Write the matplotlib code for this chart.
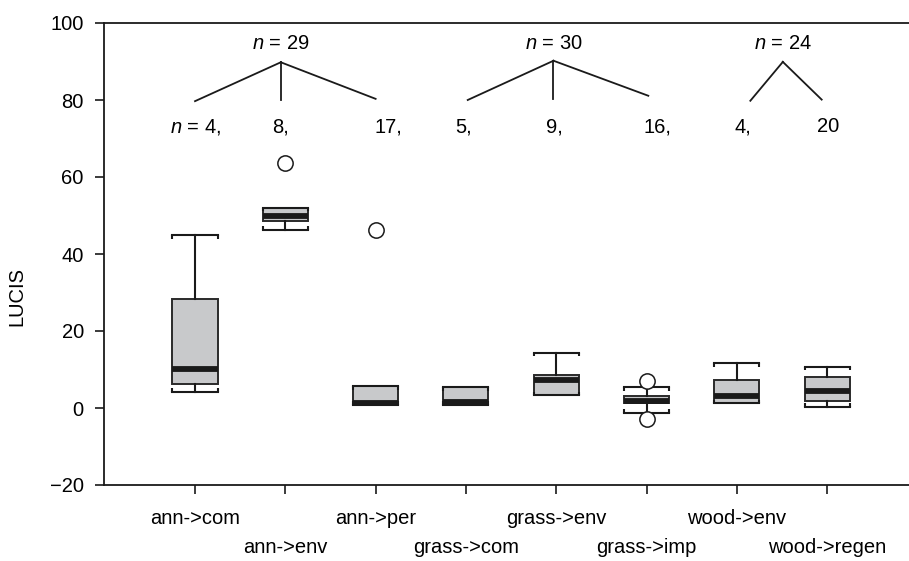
import matplotlib
matplotlib.use("Agg")
import matplotlib.pyplot as plt

plt.rcParams['font.family'] = ['Liberation Sans', 'DejaVu Sans']
plt.rcParams['mathtext.fontset'] = 'custom'
plt.rcParams['mathtext.it'] = 'Liberation Sans:italic'
plt.rcParams['mathtext.rm'] = 'Liberation Sans'

categories = ['ann->com', 'ann->env', 'ann->per', 'grass->com',
              'grass->env', 'grass->imp', 'wood->env', 'wood->regen']
q1 = [6.3, 48.6, 0.9, 0.9, 3.5, 1.2, 1.4, 1.8]
med = [10.2, 49.9, 1.4, 1.5, 7.3, 1.9, 3.0, 4.4]
q3 = [28.2, 52.0, 5.7, 5.4, 8.7, 3.2, 7.4, 8.1]
whislo = [4.2, 46.3, 0.9, 0.9, 3.3, -1.2, 1.2, 0.3]
whishi = [44.9, 52.0, 5.7, 5.4, 14.4, 5.4, 11.6, 10.7]
fliers = [[], [63.6], [46.2], [], [], [7.1, -2.8], [], []]

group_n = ['29', '30', '24']
sub_n = ['$n$ = 4,', '8,', '17,', '5,', '9,', '16,', '4,', '20']

fig = plt.figure(figsize=(9.09, 5.61), dpi=100)
ax = fig.add_axes([104/909, 1-485/561, 805/909, 462/561])

stats = []
for i, c in enumerate(categories):
    stats.append(dict(label=c, q1=q1[i], med=med[i], q3=q3[i],
                      whislo=whislo[i], whishi=whishi[i], fliers=fliers[i]))

positions = list(range(1, len(categories) + 1))
lc = '#1a1a1a'
bw = 0.5
res = ax.bxp(stats, positions=positions, widths=bw, patch_artist=True,
             boxprops=dict(facecolor='#c8c9cb', edgecolor='#2a2a2a', linewidth=1.4),
             medianprops=dict(color=lc, linewidth=4.2, solid_capstyle='butt'),
             whiskerprops=dict(color=lc, linewidth=1.5),
             capprops=dict(color=lc, linewidth=1.5),
             capwidths=bw,
             flierprops=dict(marker='o', markersize=11, markerfacecolor='white',
                             markeredgecolor=lc, markeredgewidth=1.1))

# small bracket tips on caps, pointing toward the box
tip = 0.9
for i, p in enumerate(positions):
    for yv, d in ((whishi[i], -tip), (whislo[i], tip)):
        for xe in (p - bw / 2, p + bw / 2):
            ax.plot([xe, xe], [yv, yv + d], color=lc, linewidth=1.5,
                    solid_capstyle='butt')

ax.set_xlim(-0.008, 8.907)
ax.set_ylim(-20, 100)
ax.set_yticks([-20, 0, 20, 40, 60, 80, 100])
ax.set_yticklabels(['\u221220', '0', '20', '40', '60', '80', '100'])
ax.set_xticks(positions)
ax.set_xticklabels(categories)
ax.tick_params(axis='both', labelsize=14.5, length=6.5, width=1.2, color=lc)
ax.tick_params(axis='y', pad=8)
for i, t in enumerate(ax.xaxis.get_major_ticks()):
    t.set_pad(11 if i % 2 == 0 else 32)

ax.spines['right'].set_visible(False)
for s in ['left', 'top', 'bottom']:
    ax.spines[s].set_linewidth(1.3)
    ax.spines[s].set_color(lc)

ax.set_ylabel('LUCIS', fontsize=14.5)
ax.yaxis.set_label_coords(-0.096, 0.407)

# group trees
trees = [
    (1.95, 89.8, [(1.0, 79.7), (1.95, 79.9), (3.0, 80.3)]),
    (4.97, 90.2, [(4.02, 80.0), (4.97, 80.3), (6.02, 81.1)]),
    (7.51, 89.9, [(7.15, 79.8), (7.94, 80.1)]),
]
for (ax_x, ax_y, ends), gn in zip(trees, group_n):
    for ex, ey in ends:
        ax.plot([ax_x, ex], [ax_y, ey], color=lc, linewidth=1.3)
    ax.text(ax_x, 94.8, '$n$ = ' + gn, ha='center', va='center', fontsize=14.5)

sub_x = [1.01, 1.95, 3.14, 3.97, 4.98, 6.12, 7.07, 8.01]
for sx, s in zip(sub_x, sub_n):
    ax.text(sx, 73, s, ha='center', va='center', fontsize=14.5)

fig.savefig('out.png', dpi=100)
